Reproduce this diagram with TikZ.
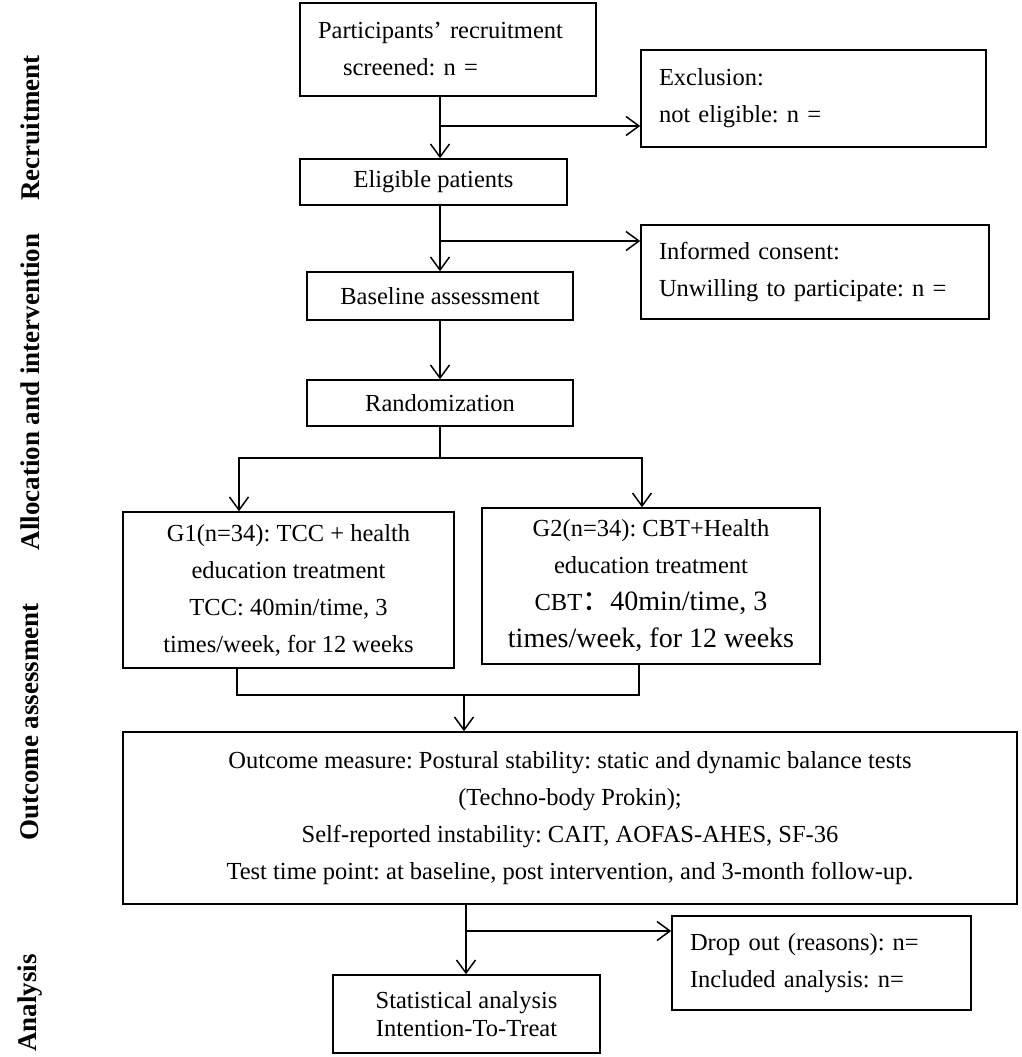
\documentclass[tikz,border=0pt]{standalone}
\usepackage{fontspec}
\setmainfont{Liberation Serif}
\newfontfamily\cjk{Noto Sans CJK SC}
\usetikzlibrary{arrows.meta}
\frenchspacing
\newcommand\mainsz{\fontsize{24.5}{37}\selectfont}
\newcommand\bigsz{\fontsize{28}{37}\selectfont}
\begin{document}
\frenchspacing
\begin{tikzpicture}[x=1pt,y=-1pt,
  ln/.style={line width=1.5pt},
  arr/.style={ln,-{Straight Barb[length=13pt,width=19pt]}},
  box/.style={draw,line width=1.5pt,inner sep=0pt,align=center,font=\mainsz},
  lbox/.style={box,align=left,inner xsep=18pt},
  lab/.style={rotate=90,font=\fontsize{27}{30}\selectfont\bfseries,inner sep=0pt}]
\useasboundingbox (0,0) rectangle (1021,1057);
\fill[white] (0,0) rectangle (1021,1057);

% side labels
\node[lab] (l1) at (30,128) {Recruitment};
\node[lab] (l2) at (30,392) {Allocation and intervention};
\node[lab] (l3) at (30,722) {Outcome assessment};
\node[lab] (l4) at (30,1003) {Analysis};

% boxes
\node[lbox,text width=260pt,minimum height=93pt] (recr) at (448,49.5)
  {Participants’ recruitment\\\hspace*{25pt}screened: n =};
\node[lbox,text width=309pt,minimum height=97pt] (excl) at (813.5,98.5)
  {Exclusion:\\not eligible: n =};
\node[box,minimum width=267pt,minimum height=46pt] (elig) at (433.5,182) {Eligible patients};
\node[lbox,text width=312pt,minimum height=94pt] (cons) at (815,272)
  {Informed consent:\\Unwilling to participate: n =};
\node[box,minimum width=266pt,minimum height=48pt] (base) at (440,296) {Baseline assessment};
\node[box,minimum width=266pt,minimum height=46pt] (rand) at (440,403) {Randomization};
\node[box,minimum width=331pt,minimum height=156pt] (g1) at (288.5,590)
  {G1(n=34): TCC + health\\education treatment\\TCC: 40min/time, 3\\times/week, for 12 weeks};
\node[box,minimum width=338pt,minimum height=156pt] (g2) at (651,586)
  {G2(n=34): CBT+Health\\education treatment\\CBT{\cjk\bigsz ：}{\bigsz 40min/time, 3}\\{\bigsz times/week, for 12 weeks}};
\node[box,minimum width=894pt,minimum height=172pt] (out) at (570,818)
  {Outcome measure: Postural stability: static and dynamic balance tests\\(Techno-body Prokin);\\Self-reported instability: CAIT, AOFAS-AHES, SF-36\\Test time point: at baseline, post intervention, and 3-month follow-up.};
\node[box,minimum width=267pt,minimum height=78pt,font=\fontsize{24.5}{28}\selectfont] (stat) at (466.5,1014)
  {Statistical analysis\\Intention-To-Treat};
\node[lbox,text width=263pt,minimum height=94pt] (drop) at (821.5,963)
  {Drop out (reasons): n=\\Included analysis: n=};

% connectors
\coordinate (sp) at (440,0);
\coordinate (b1) at (440,126);
\coordinate (b2) at (440,241);
\draw[arr] (recr.south -| sp) -- (elig.north -| sp);
\draw[arr] (b1) -- (b1 -| excl.west);
\draw[arr] (elig.south -| sp) -- (base.north -| sp);
\draw[arr] (b2) -- (b2 -| cons.west);
\draw[arr] (base.south -| sp) -- (rand.north -| sp);

\coordinate (s) at (440,458);
\coordinate (sl) at (239,0);
\coordinate (sr) at (642,0);
\draw[ln] (rand.south) -- (s);
\draw[arr] (s) -| (g1.north -| sl);
\draw[arr] (s) -| (g2.north -| sr);

\coordinate (j) at (464,695);
\coordinate (jl) at (237,0);
\coordinate (jr) at (639,0);
\draw[ln] (g1.south -| jl) |- (j);
\draw[ln] (g2.south -| jr) |- (j);
\draw[arr] (j) -- (j |- out.north);

\coordinate (sp2) at (466,0);
\coordinate (b3) at (466,931);
\draw[arr] (out.south -| sp2) -- (stat.north -| sp2);
\draw[arr] (b3) -- (b3 -| drop.west);
\end{tikzpicture}
\end{document}
